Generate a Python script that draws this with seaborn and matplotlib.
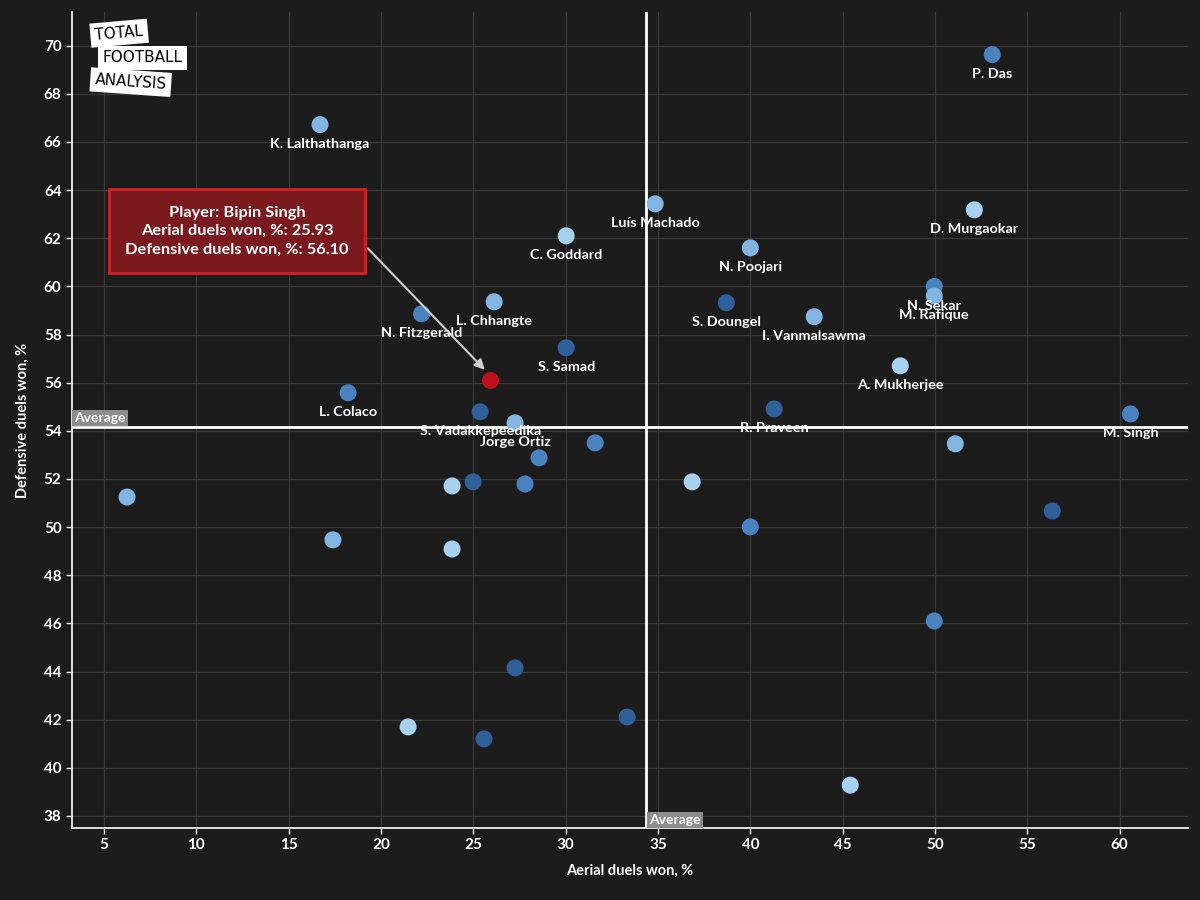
import pandas as pd
import matplotlib.pyplot as plt
import seaborn as sns

# data
players = ['P. Das', 'K. Lalthathanga', 'Luís Machado', 'D. Murgaokar', 'C. Goddard',
           'N. Poojari', 'N. Sekar', 'M. Rafique', 'S. Doungel', 'L. Chhangte',
           'N. Fitzgerald', 'I. Vanmalsawma', 'S. Samad', 'A. Mukherjee', 'L. Colaco',
           'S. Vadakkepeedika', 'Jorge Ortiz', 'R. Praveen', 'M. Singh',
           '', '', '', '', '', '', '', '', '', '', '', '', '', '', '', '', '', '']
aerial = [53.1, 16.7, 34.85, 52.13, 30.03,
          40.0, 49.96, 49.96, 38.7, 26.13,
          22.2, 43.46, 30.03, 48.12, 18.22,
          25.37, 27.26, 41.29, 60.58,
          51.1, 31.6, 28.56, 6.25, 24.99, 23.85, 27.8, 36.85, 40.0, 56.35,
          17.4, 23.85, 49.96, 27.26, 33.33, 21.47, 25.58, 45.41]
defensive = [69.63, 66.72, 63.43, 63.18, 62.10,
             61.6, 60.0, 59.6, 59.32, 59.36,
             58.86, 58.74, 57.45, 56.70, 55.58,
             54.79, 54.33, 54.91, 54.70,
             53.46, 53.5, 52.88, 51.25, 51.88, 51.71, 51.79, 51.88, 50.01, 50.67,
             49.47, 49.09, 46.1, 44.15, 42.11, 41.7, 41.2, 39.28]
shade = ['mid', 'light', 'light', 'pale', 'pale',
         'light', 'mid', 'light', 'dark', 'light',
         'mid', 'light', 'dark', 'pale', 'mid',
         'dark', 'light', 'dark', 'mid',
         'light', 'mid', 'mid', 'light', 'dark', 'pale', 'mid', 'pale', 'mid', 'dark',
         'light', 'pale', 'mid', 'dark', 'dark', 'pale', 'dark', 'pale']

highlight_name = 'Bipin Singh'
highlight_x = 25.93
highlight_y = 56.10
avg_x = 34.36
avg_y = 54.16

df = pd.DataFrame({'player': players, 'aerial': aerial, 'defensive': defensive, 'shade': shade})

bg = '#1c1c1c'
sns.set_theme(style='dark')
plt.rcParams['font.family'] = ['Lato', 'DejaVu Sans']

fig = plt.figure(figsize=(12, 9), dpi=100, facecolor=bg)
ax = fig.add_axes([0.06, 0.08, 0.93, 0.9067])
ax.set_facecolor(bg)

palette = {'dark': '#30609a', 'mid': '#4a82c0', 'light': '#82b5e2', 'pale': '#a8d0ef'}
sns.scatterplot(data=df, x='aerial', y='defensive', hue='shade', palette=palette,
                s=150, linewidth=0, legend=False, ax=ax, zorder=3)
ax.scatter([highlight_x], [highlight_y], s=150, color='#c0111b', linewidth=0, zorder=4)

for _, r in df.iterrows():
    if r['player']:
        ax.annotate(r['player'], (r['aerial'], r['defensive']), xytext=(0, -14),
                    textcoords='offset points', ha='center', va='center',
                    color='white', fontsize=10.4, fontweight='bold', zorder=5)

# average lines
ax.axvline(avg_x, color='white', lw=2, zorder=2)
ax.axhline(avg_y, color='white', lw=2, zorder=2)
ax.text(3.4, avg_y + 0.12, 'Average', color='white', fontsize=10, fontweight='bold',
        ha='left', va='bottom', zorder=6,
        bbox=dict(boxstyle='square,pad=0.15', fc='#8c8c8c', ec='none'))
ax.text(avg_x + 0.15, 37.6, 'Average', color='white', fontsize=10, fontweight='bold',
        ha='left', va='bottom', zorder=6,
        bbox=dict(boxstyle='square,pad=0.15', fc='#8c8c8c', ec='none'))

# highlighted player box
ax.annotate(f'Player: {highlight_name}\nAerial duels won, %: {highlight_x:.2f}\n'
            f'Defensive duels won, %: {highlight_y:.2f}',
            xy=(highlight_x - 0.2, highlight_y + 0.35), xytext=(12.2, 62.3),
            ha='center', va='center', color='white', fontsize=11.8, fontweight='bold',
            linespacing=1.4, zorder=7,
            bbox=dict(boxstyle='square,pad=1.0', fc='#7a1a1e', ec='#d42026', lw=2),
            arrowprops=dict(arrowstyle='-|>', color='#d0d0d0', lw=1.5,
                            mutation_scale=15, relpos=(1, 0.55)))

# logo
for txt, x, y, rot in [('TOTAL', 0.02, 0.974, 5), ('FOOTBALL', 0.027, 0.944, 0),
                       ('ANALYSIS', 0.02, 0.914, -4)]:
    ax.text(x, y, txt, transform=ax.transAxes, fontsize=11, color='black',
            rotation=rot, ha='left', va='center', fontfamily='DejaVu Sans Condensed',
            bbox=dict(boxstyle='square,pad=0.3', fc='white', ec='none'), zorder=8)

ax.set_xlim(3.27, 63.7)
ax.set_ylim(37.5, 71.4)
ax.set_xticks(range(5, 61, 5))
ax.set_yticks(range(38, 71, 2))
ax.grid(True, color='#3a3a3a', lw=0.9)
ax.set_axisbelow(True)
for s in ['top', 'right']:
    ax.spines[s].set_visible(False)
for s in ['left', 'bottom']:
    ax.spines[s].set_color('white')
    ax.spines[s].set_linewidth(1.2)
ax.tick_params(colors='white', labelsize=11, length=4, width=1, bottom=True, left=True)
for lab in ax.get_xticklabels() + ax.get_yticklabels():
    lab.set_fontweight('bold')
ax.set_xlabel('Aerial duels won, %', color='white', fontsize=10.5, fontweight='bold', labelpad=8)
ax.set_ylabel('Defensive duels won, %', color='white', fontsize=10.5, fontweight='bold', labelpad=10)

fig.savefig('out.png', dpi=100, facecolor=bg)
